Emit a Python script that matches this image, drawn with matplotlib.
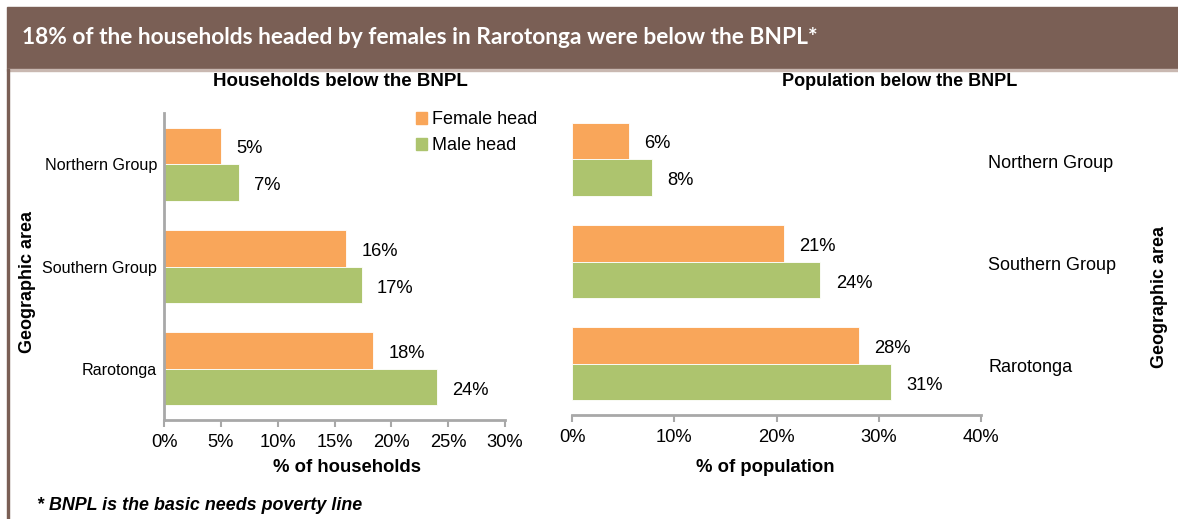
import matplotlib
matplotlib.use("Agg")
import matplotlib.pyplot as plt
from matplotlib.patches import Rectangle, Patch
from matplotlib.ticker import FuncFormatter
from matplotlib.transforms import blended_transform_factory
import numpy as np

plt.rcParams["font.family"] = ["Liberation Sans", "DejaVu Sans"]

areas = ["Rarotonga", "Southern Group", "Northern Group"]
hh_female = [18.4, 16.0, 5.0]
hh_male = [24.0, 17.4, 6.6]
pop_female = [28.1, 20.7, 5.6]
pop_male = [31.2, 24.3, 7.8]

ORANGE = "#F9A65A"
GREEN = "#ADC46E"
BROWN = "#7A5F55"
SPINE = "#A8A8A8"

W, H = 1178, 519
fig = plt.figure(figsize=(W / 100, H / 100), dpi=100)


def fx(px):
    return px / W


def fy(py):
    return 1 - py / H


# header band and left frame line
fig.patches.append(Rectangle((fx(7), fy(69)), 1 - fx(7), fy(7) - fy(69),
                             transform=fig.transFigure, color=BROWN, zorder=0))
fig.patches.append(Rectangle((fx(7), fy(70.5)), 1 - fx(7), fy(69) - fy(70.5),
                             transform=fig.transFigure, color="#C9B8B1", zorder=0))
fig.patches.append(Rectangle((fx(7), 0), fx(2), fy(69),
                             transform=fig.transFigure, color=BROWN, zorder=0))
fig.text(fx(22), fy(38), "18% of the households headed by females in Rarotonga were below the BNPL*",
         color="white", fontsize=16.4, fontweight="bold", family=["Lato", "DejaVu Sans"],
         va="center", ha="left")

pct = FuncFormatter(lambda v, _: f"{v:.0f}%")
y = np.arange(len(areas))
bh = 0.357


def draw(ax, female, male, xmax, step):
    ax.barh(y + bh / 2, female, bh, color=ORANGE, edgecolor="white", linewidth=0.6)
    ax.barh(y - bh / 2, male, bh, color=GREEN, edgecolor="white", linewidth=0.6)
    for yi, v in zip(y, female):
        ax.annotate(f"{v:.0f}%", (v, yi + bh / 2), xytext=(11, -2), textcoords="offset points",
                    va="center", ha="left", fontsize=13.2)
    for yi, v in zip(y, male):
        ax.annotate(f"{v:.0f}%", (v, yi - bh / 2), xytext=(11, -2.5), textcoords="offset points",
                    va="center", ha="left", fontsize=13.2)
    ax.set_xlim(0, xmax)
    ax.set_ylim(-0.5, len(areas) - 0.5)
    ax.set_xticks(np.arange(0, xmax + 0.1, step))
    ax.xaxis.set_major_formatter(pct)
    ax.tick_params(axis="x", labelsize=13.2, length=5, width=1.5, color=SPINE, pad=5)
    ax.tick_params(axis="y", length=0)
    for s in ("top", "right"):
        ax.spines[s].set_visible(False)
    ax.spines["bottom"].set_color(SPINE)
    ax.spines["bottom"].set_linewidth(2)


# households
ax1 = fig.add_axes([fx(164), fy(420), fx(505 - 164), fy(113) - fy(420)])
draw(ax1, hh_female, hh_male, 30, 5)
ax1.set_yticks(y)
ax1.set_yticklabels(areas, fontsize=11.6)
ax1.tick_params(axis="y", pad=5)
ax1.spines["left"].set_color(SPINE)
ax1.spines["left"].set_linewidth(2)

# population, category names sit on the right of the plot area
ax2 = fig.add_axes([fx(572), fy(415), fx(981 - 572), fy(108) - fy(415)])
draw(ax2, pop_female, pop_male, 40, 10)
ax2.set_yticks([])
ax2.spines["left"].set_visible(False)
right_tr = blended_transform_factory(fig.transFigure, ax2.transData)
for yi, name in zip(y, areas):
    ax2.annotate(name, (fx(988), yi), xycoords=right_tr, xytext=(0, -3),
                 textcoords="offset points", fontsize=13, va="center", ha="left",
                 annotation_clip=False)

fig.text(fx(340), fy(82), "Households below the BNPL", fontsize=13.5, fontweight="bold",
         ha="center", va="center")
fig.text(fx(900), fy(82), "Population below the BNPL", fontsize=13, fontweight="bold",
         ha="center", va="center")
fig.text(fx(347), fy(468), "% of households", fontsize=13.3, fontweight="bold", ha="center", va="center")
fig.text(fx(765), fy(468), "% of population", fontsize=13.3, fontweight="bold", ha="center", va="center")
fig.text(fx(28), fy(282), "Geographic area", fontsize=13, fontweight="bold", rotation=90,
         ha="center", va="center")
fig.text(fx(1160), fy(297), "Geographic area", fontsize=13, fontweight="bold", rotation=90,
         ha="center", va="center")
fig.text(fx(37), fy(506), "* BNPL is the basic needs poverty line", fontsize=12.9,
         fontweight="bold", style="italic", ha="left", va="center")

handles = [Patch(color=ORANGE, label="Female head"), Patch(color=GREEN, label="Male head")]
fig.legend(handles=handles, loc="upper left", bbox_to_anchor=(fx(409), fy(104)), frameon=False,
           fontsize=13, handlelength=0.6, handleheight=0.6, handletextpad=0.3, labelspacing=0.5,
           borderaxespad=0)

fig.savefig("out.png", dpi=100)
